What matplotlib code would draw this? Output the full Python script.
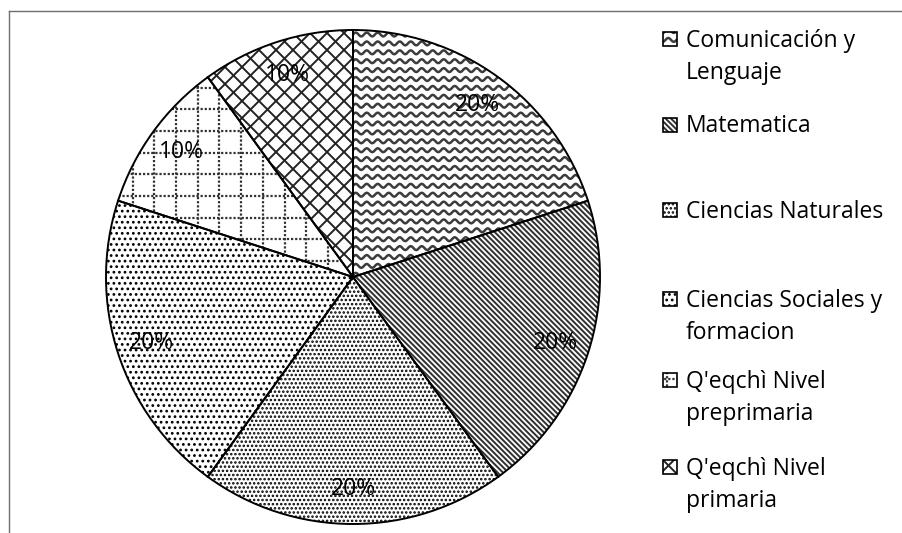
import numpy as np
import matplotlib
matplotlib.use("Agg")
import matplotlib.pyplot as plt
from matplotlib.patches import Rectangle
from matplotlib.collections import LineCollection
from matplotlib.lines import Line2D

plt.rcParams['font.family'] = ['Open Sans', 'DejaVu Sans']
plt.rcParams['hatch.linewidth'] = 1.2

# Subject shares (percent)
subjects = [
    "Comunicación y\nLenguaje",
    "Matematica",
    "Ciencias Naturales",
    "Ciencias Sociales y\nformacion",
    "Q'eqchì Nivel\npreprimaria",
    "Q'eqchì Nivel\nprimaria",
]
shares = [20, 20, 20, 20, 10, 10]

# fill style per subject
fills = ['wave', 'stripes', 'dense_dots', 'dots', 'grid', 'cross']

W, H, DPI = 902, 533, 100
fig = plt.figure(figsize=(W / DPI, H / DPI), dpi=DPI)

# pie centre and radius in pixels
cx, cy, R = 353, 277, 247
ax = fig.add_axes([(cx - R) / W, (H - cy - R) / H, 2 * R / W, 2 * R / H])
wedges, _, pct_texts = ax.pie(
    shares, startangle=90, counterclock=False, autopct='%1.0f%%',
    pctdistance=0.86,
    wedgeprops=dict(facecolor='none', edgecolor='black', linewidth=1.4,
                    clip_on=False, zorder=3),
    textprops=dict(fontsize=16.5, color='black'),
)
ax.set_xlim(-1, 1)
ax.set_ylim(-1, 1)
ax.set_aspect('auto')
ax.axis('off')
for t in pct_texts:
    t.set_zorder(5)


def _add(axis, clip, segs, color, lw, ls='solid'):
    lc = LineCollection(segs, colors=color, linewidths=lw, linestyles=[ls],
                        zorder=2, capstyle='butt')
    axis.add_collection(lc)
    lc.set_clip_path(clip)


def wave_fill(axis, clip, x0, x1, y0, y1, px):
    """Horizontal wavy lines; px = data units per pixel."""
    gap, wl, amp = 8.9 * px, 11 * px, 1.9 * px
    xs = np.arange(x0, x1 + wl, px * 0.5)
    segs = [np.column_stack([xs, y + amp * np.sin(2 * np.pi * xs / wl)])
            for y in np.arange(y0, y1 + gap, gap)]
    _add(axis, clip, segs, '#3c3c3c', 1.8)


def diag_fill(axis, clip, x0, x1, y0, y1, px, step_px, slopes, color, lw):
    """Straight 45-degree lines; step_px is the horizontal spacing."""
    step = step_px * px
    span = (x1 - x0) + (y1 - y0)
    segs = []
    for s in slopes:
        for c in np.arange(-span - step, span + step, step):
            xa, xb = x0 - span, x1 + span
            segs.append([(xa, y0 + s * (xa - x0) + c), (xb, y0 + s * (xb - x0) + c)])
    _add(axis, clip, segs, color, lw)


def grid_fill(axis, clip, x0, x1, y0, y1, px, ox=0.0, oy=0.0):
    """Dotted square grid."""
    step = 21.7 * px
    segs = [[(x, y0), (x, y1)] for x in np.arange(x0 + ox, x1, step)]
    segs += [[(x0, y), (x1, y)] for y in np.arange(y0 + oy, y1, step)]
    _add(axis, clip, segs, '#333333', 1.6, (0, (1, 0.85)))


def apply_fill(axis, patch, kind, x0, x1, y0, y1, px, sy):
    # sy is +1 when the y axis points up, -1 when it points down
    if kind == 'wave':
        wave_fill(axis, patch, x0, x1, y0, y1, px)
    elif kind == 'stripes':
        diag_fill(axis, patch, x0, x1, y0, y1, px, 5.4, [-sy], '#333333', 1.45)
    elif kind == 'cross':
        diag_fill(axis, patch, x0, x1, y0, y1, px, 17, [1, -1], '#222222', 1.4)
    elif kind == 'grid':
        grid_fill(axis, patch, x0, x1, y0, y1, px, ox=0.02 if px < 1 else 7,
                  oy=0.01 if px < 1 else 7)
    elif kind == 'dense_dots':
        patch.set_hatch('....')
    elif kind == 'dots':
        patch.set_hatch('...')


px_pie = 1.0 / R
for w, f in zip(wedges, fills):
    apply_fill(ax, w, f, -1, 1, -1, 1, px_pie, 1)

# overlay in pixel coordinates for the legend and outer frame
ov = fig.add_axes([0, 0, 1, 1])
ov.set_xlim(0, W)
ov.set_ylim(H, 0)
ov.axis('off')
ov.patch.set_alpha(0)

ov.add_line(Line2D([9, W], [11, 11], color='#6f6f6f', lw=1.0))
ov.add_line(Line2D([9, 9], [11, H], color='#6f6f6f', lw=1.0))

legend_baselines = [47, 132.5, 218, 307, 388, 475]
line_pitch = 32
for label, f, yb in zip(subjects, fills, legend_baselines):
    box = Rectangle((663, yb - 15), 14, 14, facecolor='none',
                    edgecolor='black', linewidth=1.2, zorder=3)
    ov.add_patch(box)
    apply_fill(ov, box, f, 660, 680, yb - 16, yb, 1.0, -1)
    for k, line in enumerate(label.split('\n')):
        ov.text(686, yb + k * line_pitch, line, fontsize=16.5, color='black',
                va='baseline', ha='left')

fig.savefig('out.png', dpi=DPI, facecolor='white')
